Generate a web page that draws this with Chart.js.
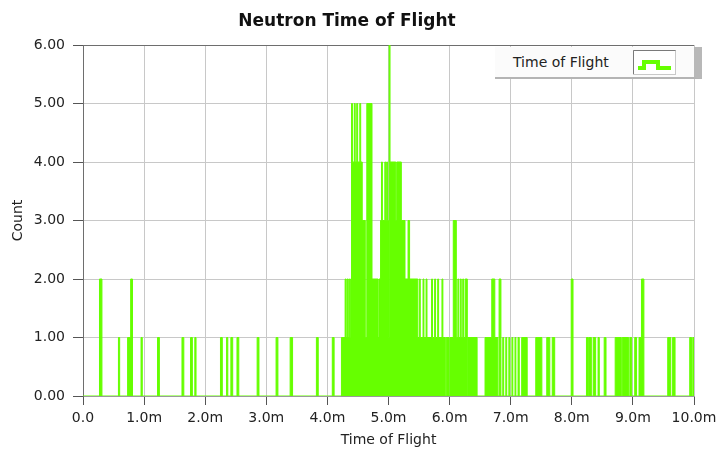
<!DOCTYPE html>
<html>
<head>
<meta charset="utf-8">
<script src="https://cdn.jsdelivr.net/npm/chart.js@4.4.1/dist/chart.umd.min.js"></script>
<style>
  body { margin: 0; background: #fff; }
  #wrap { position: relative; width: 717px; height: 453px; }
  #legend {
    position: absolute; left: 495px; top: 47px; width: 199px; height: 30px;
    background: #fbfbfb; border-bottom: 2px solid #b4b4b4; border-right: 8px solid #b8b8b8;
    font-family: "DejaVu Sans", sans-serif; font-size: 14px; color: #222;
  }
  #legend span { position: absolute; left: 18px; top: 7px; }
  #legend svg { position: absolute; left: 138px; top: 3px; }
</style>
</head>
<body>
<div id="wrap">
  <canvas id="tofChart" width="717" height="453"></canvas>
  <div id="legend">
    <span>Time of Flight</span>
    <svg width="43" height="25">
      <rect x="0.5" y="0.5" width="42" height="24" fill="#fff" stroke="#c8c8c8"/>
      <polyline points="0.5,24 0.5,0.5 42.5,0.5" fill="none" stroke="#7a7a7a"/>
      <polyline points="5,18 11,18 11,12 25,12 25,18 38,18" fill="none" stroke="#66ff00" stroke-width="4"/>
    </svg>
  </div>
</div>
<script>
// histogram runs: start / end of time of flight (ms) and count
const runStart = [0.27, 0.58, 0.73, 0.78, 0.95, 1.22, 1.62, 1.76, 1.83, 2.25, 2.35, 2.42, 2.52, 2.85, 3.16, 3.39, 3.82, 4.08,
  4.23, 4.29, 4.305, 4.32, 4.335, 4.35, 4.365, 4.38, 4.395, 4.41, 4.44, 4.455, 4.48, 4.495, 4.53, 4.545, 4.57, 4.62, 4.645,
  4.73, 4.83, 4.845, 4.87, 4.885, 4.90, 4.94, 4.955, 4.97, 4.985, 5.00, 5.01, 5.025, 5.12, 5.135, 5.21, 5.27, 5.32, 5.345,
  5.48, 5.505, 5.52, 5.565, 5.58, 5.615, 5.63, 5.705, 5.72, 5.755, 5.77, 5.805, 5.82, 5.875, 5.89, 5.945, 6.005, 6.06,
  6.11, 6.135, 6.15, 6.175, 6.19, 6.215, 6.23, 6.255, 6.30, 6.58, 6.69, 6.74, 6.81, 6.87, 6.92, 6.97, 7.02, 7.07, 7.12,
  7.18, 7.41, 7.59, 7.68, 7.99, 8.24, 8.28, 8.35, 8.43, 8.53, 8.71, 8.825, 8.95, 9.03, 9.10, 9.14, 9.57, 9.65, 9.93, 9.98];
const runEnd = [0.31, 0.60, 0.78, 0.81, 0.97, 1.25, 1.65, 1.79, 1.85, 2.28, 2.37, 2.45, 2.55, 2.88, 3.19, 3.43, 3.85, 4.11,
  4.29, 4.305, 4.32, 4.335, 4.35, 4.365, 4.38, 4.395, 4.41, 4.44, 4.455, 4.48, 4.495, 4.53, 4.545, 4.57, 4.62, 4.645, 4.73,
  4.83, 4.845, 4.87, 4.885, 4.90, 4.94, 4.955, 4.97, 4.985, 5.00, 5.01, 5.025, 5.12, 5.135, 5.21, 5.27, 5.32, 5.345, 5.48,
  5.505, 5.52, 5.565, 5.58, 5.615, 5.63, 5.705, 5.72, 5.755, 5.77, 5.805, 5.82, 5.875, 5.89, 5.93, 5.99, 6.06, 6.11,
  6.135, 6.15, 6.175, 6.19, 6.215, 6.23, 6.255, 6.29, 6.45, 6.69, 6.74, 6.79, 6.84, 6.885, 6.935, 6.985, 7.035, 7.085, 7.14,
  7.27, 7.51, 7.64, 7.72, 8.02, 8.27, 8.32, 8.39, 8.45, 8.56, 8.81, 8.93, 8.98, 9.06, 9.14, 9.18, 9.62, 9.69, 9.96, 10.0];
const runCount = [2, 1, 1, 2, 1, 1, 1, 1, 1, 1, 1, 1, 1, 1, 1, 1, 1, 1,
  1, 2, 1, 2, 1, 2, 1, 2, 5, 4, 5, 4, 5, 4, 5, 4, 3, 1, 5,
  2, 1, 2, 3, 4, 3, 4, 3, 4, 3, 1, 6, 4, 3, 4, 3, 2, 3, 2,
  1, 2, 1, 2, 1, 2, 1, 2, 1, 2, 1, 2, 1, 2, 1, 1, 1, 3,
  1, 2, 1, 2, 1, 2, 1, 2, 1, 1, 2, 1, 2, 1, 1, 1, 1, 1, 1,
  1, 1, 1, 1, 2, 1, 1, 1, 1, 1, 1, 1, 1, 1, 1, 2, 1, 1, 1, 1];

const xTickLabels = ['0.0', '1.0m', '2.0m', '3.0m', '4.0m', '5.0m', '6.0m', '7.0m', '8.0m', '9.0m', '10.0m'];
const yTickLabels = ['0.00', '1.00', '2.00', '3.00', '4.00', '5.00', '6.00'];

// turn the runs into step points (value holds until the next point)
const stepPoints = [{ x: 0, y: 0 }];
runStart.forEach((s, i) => {
    stepPoints.push({ x: s, y: runCount[i] });
    const next = runStart[i + 1];
    if (next === undefined || next > runEnd[i]) {
        stepPoints.push({ x: runEnd[i], y: 0 });
    }
});
if (stepPoints[stepPoints.length - 1].x < 10) stepPoints.push({ x: 10, y: 0 });

const green = '#66ff00';
const font = { family: '"DejaVu Sans", sans-serif', size: 14 };

new Chart(document.getElementById('tofChart'), {
    type: 'line',
    data: {
        datasets: [{
            label: 'Time of Flight',
            data: stepPoints,
            stepped: true,
            borderColor: green,
            backgroundColor: green,
            borderWidth: 1,
            fill: 'origin',
            pointRadius: 0,
            tension: 0
        }]
    },
    options: {
        responsive: false,
        animation: false,
        layout: { padding: { left: 0, right: 23, top: 0, bottom: 0 } },
        plugins: {
            legend: { display: false },
            tooltip: { enabled: false },
            title: {
                display: true,
                text: 'Neutron Time of Flight',
                color: '#111',
                font: { family: '"DejaVu Sans", sans-serif', size: 17, weight: 'bold' },
                padding: { top: 11, bottom: 13.6 }
            }
        },
        scales: {
            x: {
                type: 'linear',
                min: 0,
                max: 10,
                afterFit: scale => {
                    scale.height = 57;
                    scale.paddingLeft = 0;
                    scale.paddingRight = 0;
                },
                afterBuildTicks: scale => {
                    scale.ticks = xTickLabels.map((_, i) => ({ value: i }));
                },
                ticks: {
                    color: '#222',
                    font: font,
                    padding: 5,
                    maxRotation: 0,
                    callback: (v, i) => xTickLabels[i]
                },
                grid: { color: '#c8c8c8', tickColor: '#555', tickLength: 9 },
                border: { color: '#9a9a9a' },
                title: {
                    display: true,
                    text: 'Time of Flight',
                    color: '#222',
                    font: font,
                    padding: { top: 2, bottom: 4 }
                }
            },
            y: {
                min: 0,
                max: 6,
                afterFit: scale => {
                    scale.width = 83;
                    scale.paddingTop = 0;
                    scale.paddingBottom = 0;
                },
                afterBuildTicks: scale => {
                    scale.ticks = yTickLabels.map((_, i) => ({ value: i }));
                },
                ticks: {
                    color: '#222',
                    font: font,
                    padding: 8,
                    callback: (v, i) => yTickLabels[i]
                },
                grid: {
                    color: ctx => (ctx.tick && ctx.tick.value === 6 ? '#6e6e6e' : '#c8c8c8'),
                    tickColor: '#555',
                    tickLength: 10
                },
                border: { color: '#6e6e6e' },
                title: {
                    display: true,
                    text: 'Count',
                    color: '#222',
                    font: font,
                    padding: { top: 10, bottom: 4 }
                }
            }
        }
    }
});
</script>
</body>
</html>
